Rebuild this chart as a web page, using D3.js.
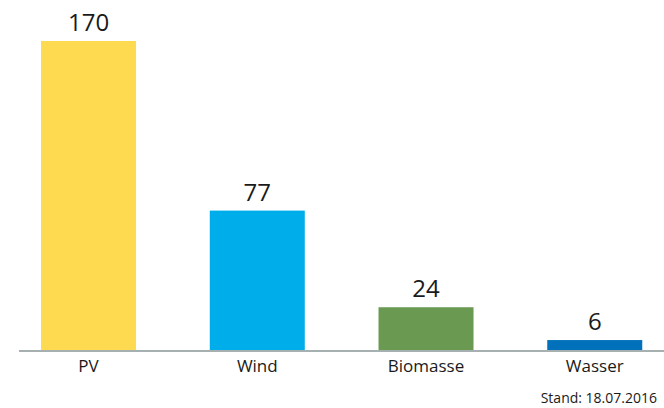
<!DOCTYPE html>
<html>
<head>
<meta charset="utf-8">
<script src="https://cdn.jsdelivr.net/npm/d3@7/dist/d3.min.js"></script>
<style>
  html, body { margin: 0; padding: 0; background: #fff; }
  svg { display: block; font-family: "Open Sans", "Noto Sans", sans-serif; }
</style>
</head>
<body>
<svg id="chart" width="664" height="408"></svg>
<script>
// Installed capacity by energy source
const categories = ["PV", "Wind", "Biomasse", "Wasser"];
const values = [170, 77, 24, 6];
const colors = ["#FDDA50", "#00ADEB", "#6A9A52", "#0071BA"];
const footnote = "Stand: 18.07.2016";

const svg = d3.select("#chart");
const baseY = 351;

const x = d3.scaleBand()
  .domain(categories)
  .range([7.3, 676])
  .paddingInner(0.437)
  .paddingOuter(0.2);

const y = d3.scaleLinear()
  .domain([0, 170])
  .range([baseY, 41]);

const data = categories.map((c, i) => ({ c, v: values[i], color: colors[i] }));

svg.append("g").selectAll("rect")
  .data(data)
  .join("rect")
  .attr("x", d => x(d.c))
  .attr("width", x.bandwidth())
  .attr("y", d => y(d.v))
  .attr("height", d => baseY - y(d.v))
  .attr("fill", d => d.color);

// baseline axis with category labels
const axis = svg.append("g")
  .attr("transform", `translate(0,${baseY})`)
  .call(d3.axisBottom(x).tickSize(0).tickPadding(9));
axis.select(".domain").remove();
axis.selectAll("text")
  .attr("font-family", "'Open Sans', 'Noto Sans', sans-serif")
  .attr("font-size", 17)
  .attr("fill", "#1a1a1a");

svg.append("line")
  .attr("x1", 19).attr("x2", 664)
  .attr("y1", baseY).attr("y2", baseY)
  .attr("stroke", "#A6B0B1")
  .attr("stroke-width", 2);

// value labels above bars
svg.append("g").selectAll("text")
  .data(data)
  .join("text")
  .attr("x", d => x(d.c) + x.bandwidth() / 2)
  .attr("y", d => y(d.v) - 10)
  .attr("text-anchor", "middle")
  .attr("font-size", 24)
  .attr("fill", "#1a1a1a")
  .text(d => d.v);

svg.append("text")
  .attr("x", 657)
  .attr("y", 403)
  .attr("text-anchor", "end")
  .attr("font-size", 14)
  .attr("fill", "#1a1a1a")
  .text(footnote);
</script>
</body>
</html>
